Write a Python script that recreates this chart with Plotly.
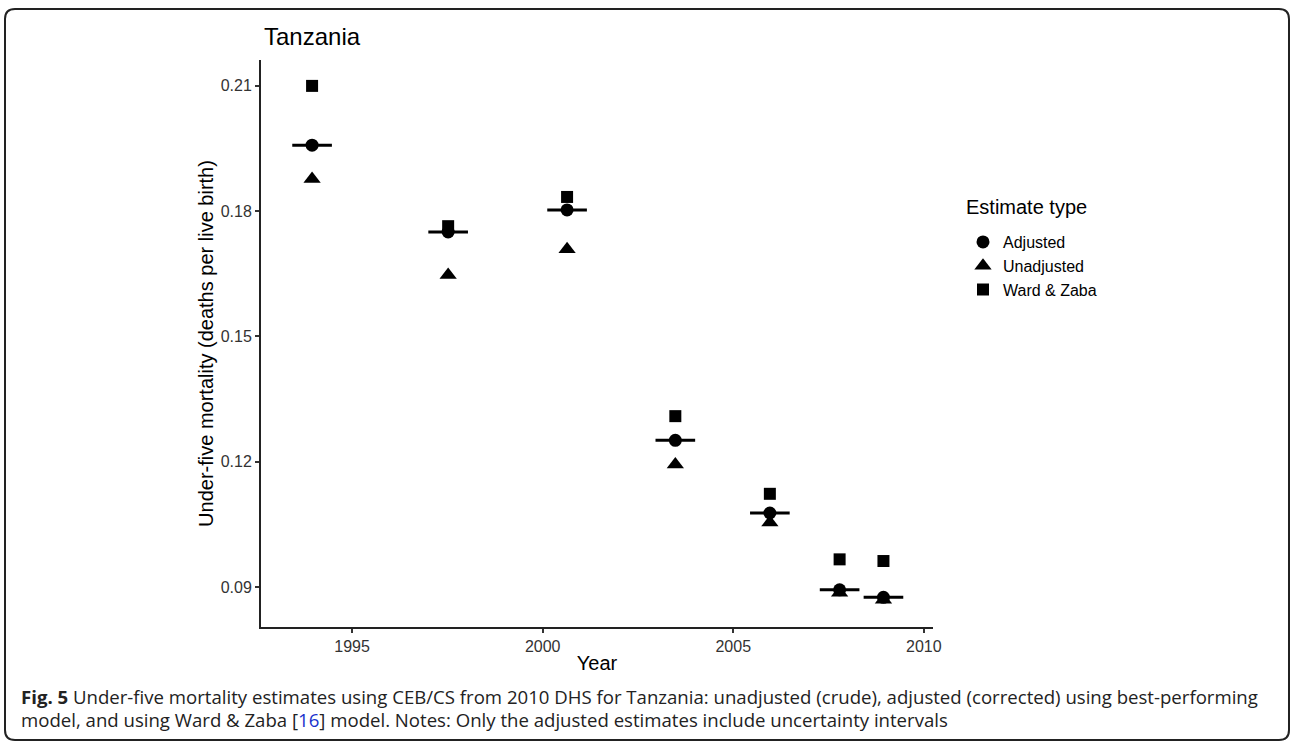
import plotly.graph_objects as go

# ---- data ----
years = [1993.95, 1997.52, 2000.64, 2003.48, 2005.96, 2007.79, 2008.94]
adjusted = [0.1958, 0.1750, 0.1803, 0.1251, 0.1077, 0.0893, 0.0875]
unadjusted = [0.1877, 0.1647, 0.1709, 0.1193, 0.1054, 0.0886, 0.0869]
ward_zaba = [0.2100, 0.1764, 0.1834, 0.1309, 0.1123, 0.0966, 0.0962]
adj_interval_halfwidth = [0.52] * len(years)

x_ticks = [1995, 2000, 2005, 2010]
y_ticks = [0.09, 0.12, 0.15, 0.18, 0.21]
y_tick_labels = ["0.09", "0.12", "0.15", "0.18", "0.21"]

W, H = 1292, 744
L, R, T, B = 261, 933, 60, 627  # plot area in px
FONT = "Liberation Sans, Arial"


def px(x, y):
    return (x - L) / (R - L), (B - y) / (B - T)


fig = go.Figure()

fig.add_trace(go.Scatter(
    x=years, y=adjusted, mode="markers", name="Adjusted",
    marker=dict(symbol="circle", size=13, color="black"),
    error_x=dict(type="data", array=adj_interval_halfwidth, symmetric=True,
                 thickness=3, width=0, color="black"),
))
fig.add_trace(go.Scatter(
    x=years, y=unadjusted, mode="markers", name="Unadjusted",
    marker=dict(symbol="triangle-up", size=15, color="black"),
))
fig.add_trace(go.Scatter(
    x=years, y=ward_zaba, mode="markers", name="Ward & Zaba",
    marker=dict(symbol="square", size=12, color="black"),
))

# rounded frame
x0, y0, x1, y1, r = 5, 9, 1289, 740, 10


def P(x, y):
    a, b = px(x, y)
    return f"{a:.5f},{b:.5f}"


path = (f"M {P(x0 + r, y0)} L {P(x1 - r, y0)} Q {P(x1, y0)} {P(x1, y0 + r)} "
        f"L {P(x1, y1 - r)} Q {P(x1, y1)} {P(x1 - r, y1)} "
        f"L {P(x0 + r, y1)} Q {P(x0, y1)} {P(x0, y1 - r)} "
        f"L {P(x0, y0 + r)} Q {P(x0, y0)} {P(x0 + r, y0)} Z")
fig.add_shape(type="path", path=path, xref="paper", yref="paper",
              line=dict(color="#222", width=2), layer="above")

cx, cy = px(262, 37)
fig.add_annotation(text="Tanzania", x=cx, y=cy, xref="paper", yref="paper",
                   xanchor="left", yanchor="middle", showarrow=False,
                   font=dict(family=FONT, size=24, color="black"))

lx, ly = px(964, 207)
fig.add_annotation(text="Estimate type", x=lx, y=ly, xref="paper", yref="paper",
                   xanchor="left", yanchor="middle", showarrow=False,
                   font=dict(family=FONT, size=20, color="black"))

caption_lines = [
    "<b>Fig. 5</b> Under-five mortality estimates using CEB/CS from 2010 DHS for Tanzania: "
    "unadjusted (crude), adjusted (corrected) using best-performing",
    "model, and using Ward &amp; Zaba [<span style='color:#1a33cc'>16</span>] model. "
    "Notes: Only the adjusted estimates include uncertainty intervals",
]
for line, ypx in zip(caption_lines, [696, 719]):
    ax_, ay_ = px(19, ypx)
    fig.add_annotation(text=line, x=ax_, y=ay_, xref="paper", yref="paper",
                       xanchor="left", yanchor="middle", align="left", showarrow=False,
                       font=dict(family="Open Sans", size=18.6, color="#222"))

axis_common = dict(showgrid=False, zeroline=False, showline=True, linecolor="#222",
                   linewidth=2, ticks="outside", ticklen=4, tickwidth=1.5,
                   tickcolor="#333", tickfont=dict(family=FONT, size=16, color="#333"))

fig.update_layout(
    width=W, height=H,
    margin=dict(l=L, r=W - R, t=T, b=H - B),
    paper_bgcolor="white", plot_bgcolor="white",
    xaxis=dict(range=[1992.61, 2010.24], tickvals=x_ticks,
               title=dict(text="Year", standoff=2,
                          font=dict(family=FONT, size=20, color="black")),
               **axis_common),
    yaxis=dict(range=[0.0804, 0.2162], tickvals=y_ticks, ticktext=y_tick_labels,
               title=dict(text="Under-five mortality (deaths per live birth)", standoff=2,
                          font=dict(family=FONT, size=20, color="black")),
               **axis_common),
    legend=dict(x=px(963, 0)[0], y=px(0, 225)[1], xanchor="left", yanchor="top",
                font=dict(family=FONT, size=16, color="black"),
                bgcolor="rgba(0,0,0,0)"),
    showlegend=True,
)

fig.write_html("out.html",
               config={"displayModeBar": False},
               post_script="document.body.style.margin='0';"
                           "document.body.style.overflow='hidden';")
